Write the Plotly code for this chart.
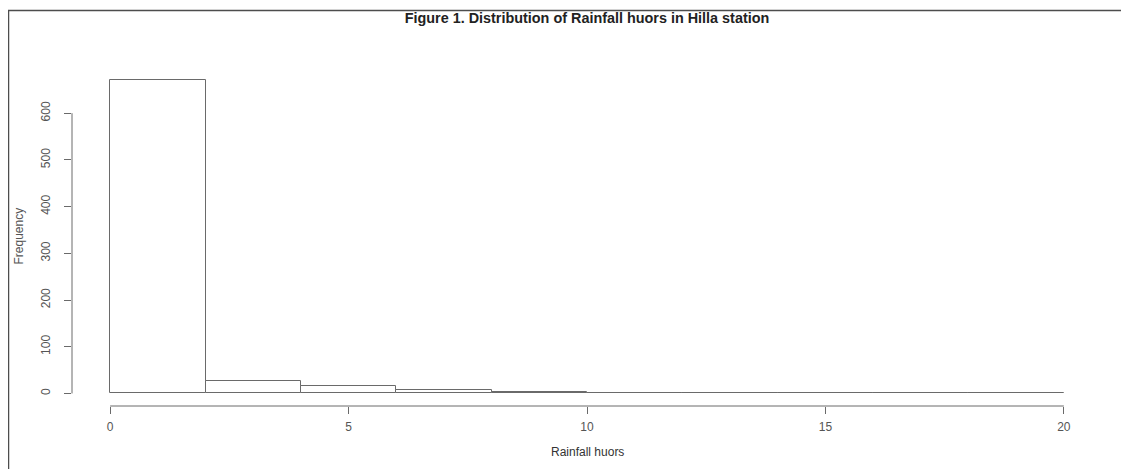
import plotly.graph_objects as go

bin_edges = [0, 2, 4, 6, 8, 10, 12, 14, 16, 18, 20]
counts = [672, 26, 15, 7, 3, 1, 2, 2, 1, 2]
x_ticks = [0, 5, 10, 15, 20]
y_ticks = [0, 100, 200, 300, 400, 500, 600]
title = "Figure 1. Distribution of Rainfall huors in Hilla station"
x_title = "Rainfall huors"
y_title = "Frequency"

centers = [(a + b) / 2 for a, b in zip(bin_edges[:-1], bin_edges[1:])]
widths = [b - a for a, b in zip(bin_edges[:-1], bin_edges[1:])]

# page body has an 8px margin, so the figure is sized to fit the 1129x469 window
OFF = 8
W, H = 1129 - OFF, 469 - OFF
ml, mr, mt, mb = 64, 27, 59, 63
pw, ph = W - ml - mr, H - mt - mb

span = bin_edges[-1] - bin_edges[0]
xr = [bin_edges[0] - 0.04 * span, bin_edges[-1] + 0.04 * span]
ymax = max(counts)
yr = [-0.04 * ymax, ymax * 1.04]

line_col = "#6a6a6a"
text_col = "#555555"
font = "Liberation Sans, Arial, sans-serif"

fig = go.Figure()
fig.add_trace(go.Bar(
    x=centers, y=counts, width=widths,
    marker=dict(color="white", line=dict(color=line_col, width=1)),
    showlegend=False, hoverinfo="x+y",
))

def px_to_paper_x(px):
    # px given in window coordinates
    return (px - OFF - ml) / pw

def px_to_paper_y(py):
    return (H - mb - (py - OFF)) / ph

shapes = [
    dict(type="line", xref="x", yref="paper", x0=x_ticks[0], x1=x_ticks[-1], y0=0, y1=0,
         line=dict(color=line_col, width=1)),
    dict(type="line", xref="paper", yref="y", x0=0, x1=0, y0=y_ticks[0], y1=y_ticks[-1],
         line=dict(color=line_col, width=1)),
    dict(type="rect", xref="paper", yref="paper",
         x0=px_to_paper_x(8.5), x1=px_to_paper_x(1126), y0=px_to_paper_y(500), y1=px_to_paper_y(10.5),
         line=dict(color="#4d4d4d", width=1.5), fillcolor="rgba(0,0,0,0)", layer="below"),
]

annotations = [
    dict(text=y_title, xref="paper", yref="paper", x=px_to_paper_x(18), y=0.5,
         xanchor="center", yanchor="middle", textangle=-90, showarrow=False,
         font=dict(size=12, color=text_col)),
    dict(text=x_title, xref="paper", yref="paper", x=0.5, y=px_to_paper_y(452),
         xanchor="center", yanchor="middle", showarrow=False,
         font=dict(size=12, color="#333333")),
]

fig.update_layout(
    template="none",
    width=W, height=H,
    margin=dict(l=ml, r=mr, t=mt, b=mb, autoexpand=False),
    paper_bgcolor="white", plot_bgcolor="white",
    font=dict(family=font, color=text_col, size=12),
    title=dict(text="<b>" + title + "</b>", x=0.5, xref="paper", xanchor="center",
               yref="container", y=1 - (18 - OFF) / H, yanchor="middle",
               font=dict(size=14.4, color="#222222")),
    bargap=0,
    shapes=shapes,
    annotations=annotations,
    xaxis=dict(range=xr, showgrid=False, zeroline=False, showline=False, automargin=False,
               tickmode="array", tickvals=x_ticks, ticktext=[str(v) for v in x_ticks],
               ticks="outside", ticklen=7, tickwidth=1, tickcolor=line_col,
               ticklabelstandoff=3, tickfont=dict(size=12, color=text_col)),
    yaxis=dict(range=yr, showgrid=False, zeroline=False, showline=False, automargin=False,
               tickmode="array", tickvals=y_ticks, ticktext=[str(v) for v in y_ticks],
               ticks="outside", ticklen=7, tickwidth=1, tickcolor=line_col, tickangle=-90,
               ticklabelstandoff=9, tickfont=dict(size=12, color=text_col)),
)

fig.write_html("out.html")
